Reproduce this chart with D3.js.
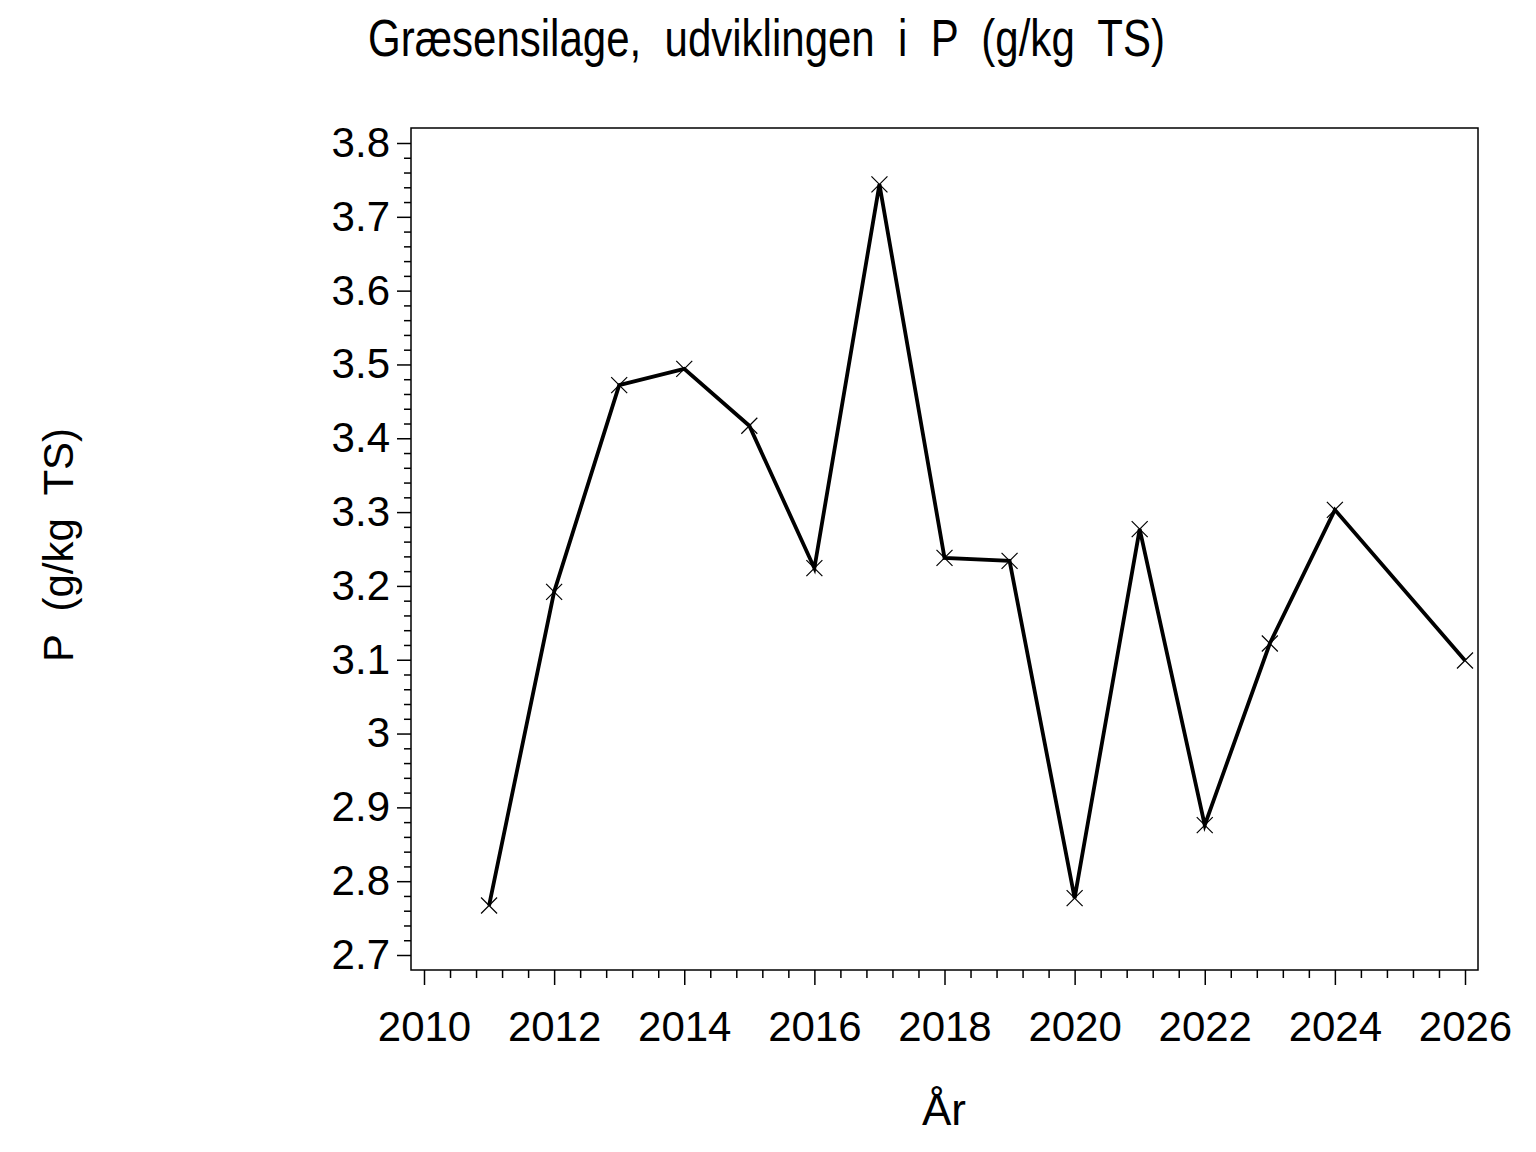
<!DOCTYPE html>
<html>
<head>
<meta charset="utf-8">
<script src="https://cdn.jsdelivr.net/npm/d3@7"></script>
<style>
  html, body { margin: 0; padding: 0; background: #fff; }
  svg { display: block; font-family: "Liberation Sans", Arial, sans-serif; }
</style>
</head>
<body>
<div class="chart"></div>
<script>
// P (g/kg TS) in græsensilage per år
const years = [2011, 2012, 2013, 2014, 2015, 2016, 2017, 2018, 2019, 2020, 2021, 2022, 2023, 2024, 2026];
const values = [2.767, 3.192, 3.472, 3.494, 3.417, 3.224, 3.744, 3.238, 3.234, 2.777, 3.277, 2.876, 3.122, 3.303, 3.099];
const xTicks = [2010, 2012, 2014, 2016, 2018, 2020, 2022, 2024, 2026];
const yTicks = [2.7, 2.8, 2.9, 3, 3.1, 3.2, 3.3, 3.4, 3.5, 3.6, 3.7, 3.8];

const titleText = "Græsensilage,  udviklingen  i  P  (g/kg  TS)";
const xLabel = "År";
const yLabel = "P  (g/kg  TS)";

const w = 1536;
const h = 1152;

const frame = { left: 411, top: 128, right: 1478, bottom: 970 };

const xScale = d3.scaleLinear().domain([2010, 2026]).range([424, 1465]);
const yScale = d3.scaleLinear().domain([2.7, 3.8]).range([955, 143]);

const svg = d3.select(".chart")
  .append("svg")
  .attr("width", w)
  .attr("height", h)
  .attr("viewBox", `0 0 ${w} ${h}`);

// title
svg.append("text")
  .attr("x", 368)
  .attr("y", 56)
  .attr("font-size", 52)
  .attr("textLength", 797)
  .attr("lengthAdjust", "spacingAndGlyphs")
  .style("white-space", "pre")
  .text(titleText);

// frame
svg.append("rect")
  .attr("x", frame.left)
  .attr("y", frame.top)
  .attr("width", frame.right - frame.left)
  .attr("height", frame.bottom - frame.top)
  .attr("fill", "none")
  .attr("stroke", "black")
  .attr("stroke-width", 1.5);

// y axis: major ticks + 4 minor between
const yAxis = d3.axisLeft(yScale)
  .tickValues(yTicks)
  .tickSize(14)
  .tickPadding(7)
  .tickFormat((d) => d3.format("~g")(d));

const yMinor = d3.axisLeft(yScale)
  .tickValues(d3.range(27, 38).flatMap((k) => [1, 2, 3, 4].map((m) => (k * 5 + m) / 50)))
  .tickSize(7)
  .tickFormat("");

const gyMinor = svg.append("g")
  .attr("transform", `translate(${frame.left},0)`)
  .call(yMinor);
gyMinor.select(".domain").remove();

const gy = svg.append("g")
  .attr("transform", `translate(${frame.left},0)`)
  .call(yAxis);
gy.select(".domain").remove();
gy.selectAll("text")
  .attr("font-size", 42)
  .attr("font-family", "Liberation Sans, Arial, sans-serif")
  .attr("fill", "black");
gy.selectAll("line").attr("stroke-width", 1.5);
gyMinor.selectAll("line").attr("stroke-width", 1.5);

// x axis: major every 2 years, 4 minor between
const xAxis = d3.axisBottom(xScale)
  .tickValues(xTicks)
  .tickSize(15)
  .tickPadding(26)
  .tickFormat(d3.format("d"));

const xMinor = d3.axisBottom(xScale)
  .tickValues(d3.range(0, 8).flatMap((k) => [1, 2, 3, 4].map((m) => 2010 + k * 2 + m * 0.4)))
  .tickSize(8)
  .tickFormat("");

const gxMinor = svg.append("g")
  .attr("transform", `translate(0,${frame.bottom})`)
  .call(xMinor);
gxMinor.select(".domain").remove();

const gx = svg.append("g")
  .attr("transform", `translate(0,${frame.bottom})`)
  .call(xAxis);
gx.select(".domain").remove();
gx.selectAll("text")
  .attr("font-size", 42)
  .attr("font-family", "Liberation Sans, Arial, sans-serif")
  .attr("fill", "black");
gx.selectAll("line").attr("stroke-width", 1.5);
gxMinor.selectAll("line").attr("stroke-width", 1.5);

// axis labels
svg.append("text")
  .attr("x", 944)
  .attr("y", 1125)
  .attr("text-anchor", "middle")
  .attr("font-size", 44)
  .text(xLabel);

svg.append("text")
  .attr("transform", "translate(73,545) rotate(-90)")
  .attr("text-anchor", "middle")
  .attr("font-size", 42)
  .style("white-space", "pre")
  .text(yLabel);

// line
const dataset = years.map((y, i) => ({ year: y, value: values[i] }));

const line = d3.line()
  .x((d) => xScale(d.year))
  .y((d) => yScale(d.value));

svg.append("path")
  .datum(dataset)
  .attr("d", line)
  .attr("fill", "none")
  .attr("stroke", "black")
  .attr("stroke-width", 3.8)
  .attr("stroke-linejoin", "miter");

// x markers
const s = 8;
svg.selectAll("path.marker")
  .data(dataset)
  .enter()
  .append("path")
  .attr("class", "marker")
  .attr("d", (d) => {
    const cx = xScale(d.year);
    const cy = yScale(d.value);
    return `M${cx - s},${cy - s}L${cx + s},${cy + s}M${cx - s},${cy + s}L${cx + s},${cy - s}`;
  })
  .attr("stroke", "black")
  .attr("stroke-width", 1.2)
  .attr("fill", "none");
</script>
</body>
</html>
